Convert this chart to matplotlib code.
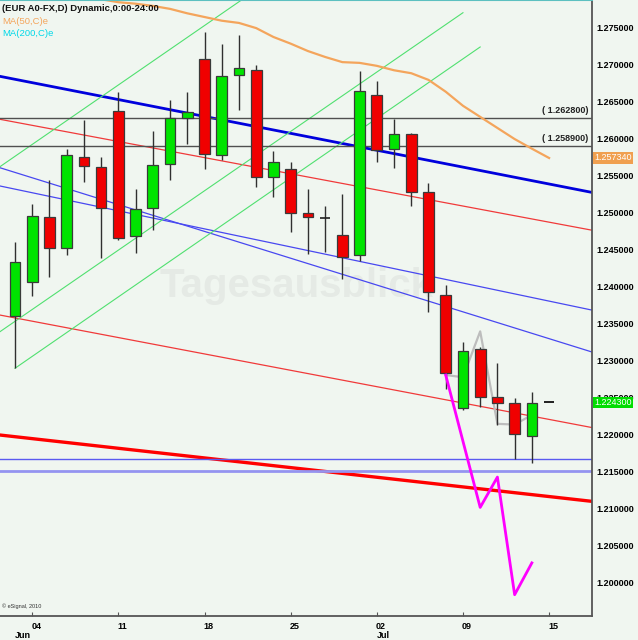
import matplotlib
matplotlib.use("Agg")
import matplotlib.pyplot as plt
import matplotlib.transforms as mtransforms
from matplotlib.patches import Rectangle

plt.rcParams['font.family'] = ['Liberation Sans', 'DejaVu Sans']

# daily candles, Jun 1 .. Jul 13 (index = trading day)
opens = [1.2360, 1.2406, 1.2494, 1.2452, 1.2575, 1.2561, 1.2637, 1.2468, 1.2506, 1.2565,
         1.2628, 1.2707, 1.2577, 1.2686, 1.2692, 1.2548, 1.2559, 1.2499, 1.2492, 1.2469,
         1.2442, 1.2659, 1.2586, 1.2606, 1.2527, 1.2388, 1.2235, 1.2315, 1.2250, 1.2242,
         1.2198]
highs = [1.2460, 1.2511, 1.2544, 1.2586, 1.2625, 1.2575, 1.2663, 1.2532, 1.2610, 1.2652,
         1.2663, 1.2744, 1.2728, 1.2740, 1.2699, 1.2583, 1.2568, 1.2532, 1.2509, 1.2525,
         1.2691, 1.2678, 1.2626, 1.2607, 1.2540, 1.2402, 1.2325, 1.2318, 1.2296, 1.2249,
         1.2257]
lows = [1.2290, 1.2387, 1.2413, 1.2442, 1.2541, 1.2438, 1.2463, 1.2445, 1.2476, 1.2544,
        1.2592, 1.2559, 1.2571, 1.2638, 1.2534, 1.2521, 1.2473, 1.2444, 1.2446, 1.2410,
        1.2434, 1.2568, 1.2560, 1.2509, 1.2365, 1.2261, 1.2233, 1.2237, 1.2212, 1.2166,
        1.2161]
closes = [1.2433, 1.2495, 1.2452, 1.2577, 1.2563, 1.2506, 1.2465, 1.2504, 1.2564, 1.2628,
          1.2636, 1.2579, 1.2684, 1.2695, 1.2548, 1.2568, 1.2499, 1.2494, 1.2492, 1.2440,
          1.2664, 1.2584, 1.2606, 1.2527, 1.2392, 1.2283, 1.2313, 1.2250, 1.2242, 1.2200,
          1.2242]
last_price = 1.2243   # Jul 16, first tick only

# MA(50) values (index 4 .. 31)
ma50_idx = list(range(4, 32))
ma50 = [1.2794, 1.2788, 1.2784, 1.2782, 1.2779, 1.2775, 1.2769, 1.2764, 1.2759, 1.2756,
        1.2749, 1.2737, 1.2728, 1.2718, 1.2710, 1.2703, 1.2702, 1.2698, 1.2692, 1.2688,
        1.2679, 1.2663, 1.2644, 1.2629, 1.2614, 1.2599, 1.2586, 1.25734]

# projection paths
proj_mag_idx = [25, 27, 28, 29, 30]
proj_mag = [1.2280, 1.2101, 1.2142, 1.1983, 1.2026]
proj_gray_idx = [25, 26, 27, 28, 29, 30]
proj_gray = [1.2280, 1.2277, 1.2339, 1.2214, 1.2213, 1.2226]

# trend lines: (idx, price) pairs
tl_blue_thick = [(0, 1.26798), (30, 1.25428)]
tl_red_upper = [(0, 1.26219), (30, 1.24910)]
tl_blue_q = [(0, 1.25313), (30, 1.23848)]
tl_blue_p = [(0, 1.25539), (30, 1.23364)]
tl_red_lower = [(0, 1.23572), (30, 1.22244)]
tl_red_thick = [(0, 1.21966), (30, 1.21183)]
green_segs = [[(-1, 1.25596), (14, 1.28007)],
              [(-1, 1.23365), (26, 1.27698)],
              [(0, 1.22891), (27, 1.27235)]]
h_levels = [1.2628, 1.2589]
support_1 = 1.2166
support_2 = 1.2150

yticks = [1.200 + 0.005 * i for i in range(16)]
day_ticks = [1, 6, 11, 16, 21, 26, 31]
day_labels = ['04', '11', '18', '25', '02', '09', '15']
month_pos = [0, 21]
month_labels = ['Jun', 'Jul']

bg = '#f0f6f0'
fig = plt.figure(figsize=(6.38, 6.40), dpi=100, facecolor=bg)
ax = fig.add_axes([0, 24 / 640, 592 / 638, 616 / 640], facecolor=bg)
ax.set_xlim(-0.87, 33.49)
ax.set_ylim(1.19542, 1.2787)

# watermark
ax.text(0.50, 0.535, 'Tagesausblick', transform=ax.transAxes, ha='center', va='center',
        fontsize=29, fontweight='bold', color='#e5eae5', zorder=0)

# trend lines
ax.axline(*tl_blue_thick, color='#0000dd', lw=2.0, zorder=2)
ax.axline(*tl_red_upper, color='#f03a3a', lw=0.9, zorder=2)
ax.axline(*tl_blue_q, color='#4848f0', lw=0.9, zorder=2)
ax.axline(*tl_blue_p, color='#4848f0', lw=0.9, zorder=2)
ax.axline(*tl_red_lower, color='#f03a3a', lw=0.9, zorder=2)
ax.axline(*tl_red_thick, color='#ff0000', lw=2.4, zorder=2)
for seg in green_segs:
    ax.plot([seg[0][0], seg[1][0]], [seg[0][1], seg[1][1]], color='#50e070', lw=0.8, zorder=2)

for lv in h_levels:
    ax.axhline(lv, color='#505050', lw=1.0, zorder=2)
    ax.text(33.3, lv + 0.0004, '( %.6f)' % lv, ha='right', va='bottom',
            fontsize=6.5, fontweight='bold', color='#222222', zorder=3)
ax.axhline(support_1, color='#5a5af0', lw=1.0, zorder=2)
ax.axhline(support_2, color='#9494f0', lw=2.0, zorder=2)

ax.plot(ma50_idx, ma50, color='#f4a55c', lw=1.6, zorder=2)

# candles
w = 0.62
for i in range(len(opens)):
    o, h, l, c = opens[i], highs[i], lows[i], closes[i]
    ax.vlines(i, l, h, color='#303030', lw=1.0, zorder=4)
    if abs(c - o) < 1e-6:
        ax.hlines(o, i - w / 2, i + w / 2, color='#202020', lw=1.2, zorder=5)
        continue
    col = '#00e400' if c > o else '#f00000'
    ax.add_patch(Rectangle((i - w / 2, min(o, c)), w, abs(c - o), facecolor=col,
                           edgecolor='#3a3a3a', lw=0.9, zorder=5))
n = len(opens)
ax.hlines(last_price, n - w / 2, n + w / 2, color='#202020', lw=1.4, zorder=5)

ax.plot(proj_gray_idx, proj_gray, color='#bdbdbd', lw=1.6, zorder=3)
ax.plot(proj_mag_idx, proj_mag, color='#ff00ff', lw=2.0, zorder=6)

# axes styling
ax.spines['left'].set_visible(False)
ax.spines['top'].set_color('#5cc0c0')
ax.spines['top'].set_linewidth(1.5)
ax.spines['right'].set_color('#555555')
ax.spines['bottom'].set_color('#555555')
ax.spines['right'].set_linewidth(1.3)
ax.spines['bottom'].set_linewidth(1.3)

ax.yaxis.tick_right()
ax.set_yticks(yticks)
ax.set_yticklabels(['%.6f' % v for v in yticks])
ax.tick_params(axis='y', length=0, pad=3, labelsize=6.5)
for lab in ax.get_yticklabels():
    lab.set_fontweight('bold')
ax.set_xticks(day_ticks)
ax.set_xticklabels([])
ax.tick_params(axis='x', direction='in', length=3, color='#555555')

trans = mtransforms.blended_transform_factory(ax.transData, ax.transAxes)
for x, lab in zip(day_ticks, day_labels):
    ax.text(x - 0.05, -0.009, lab, transform=trans, ha='left', va='top',
            fontsize=6.5, fontweight='bold', clip_on=False)
for x, lab in zip(month_pos, month_labels):
    ax.text(x, -0.024, lab, transform=trans, ha='left', va='top',
            fontsize=6.5, fontweight='bold', clip_on=False)

# price boxes on the right scale
ytrans = mtransforms.blended_transform_factory(ax.transAxes, ax.transData)
ax.text(1.004, ma50[-1], '%.6f' % ma50[-1], transform=ytrans, ha='left', va='center',
        fontsize=6.5, color='white', clip_on=False, zorder=10,
        bbox=dict(boxstyle='square,pad=0.15', fc='#f0a050', ec='none'))
ax.text(1.004, last_price, '%.6f' % last_price, transform=ytrans, ha='left', va='center',
        fontsize=6.5, color='white', clip_on=False, zorder=10,
        bbox=dict(boxstyle='square,pad=0.15', fc='#00dd00', ec='none'))

# header texts
ax.text(0.003, 0.993, '(EUR A0-FX,D) Dynamic,0:00-24:00', transform=ax.transAxes,
        ha='left', va='top', fontsize=6.8, fontweight='bold', color='#111111', zorder=10)
ax.text(0.003, 0.973, 'MA(50,C)e', transform=ax.transAxes, ha='left', va='top',
        fontsize=6.8, color='#f4a55c', zorder=10)
ax.text(0.003, 0.953, 'MA(200,C)e', transform=ax.transAxes, ha='left', va='top',
        fontsize=6.8, color='#00d8e8', zorder=10)
ax.text(0.004, 0.012, '\u00a9 eSignal, 2010', transform=ax.transAxes, ha='left', va='bottom',
        fontsize=4, color='#333333')

fig.savefig('out.png', dpi=100, facecolor=bg)
